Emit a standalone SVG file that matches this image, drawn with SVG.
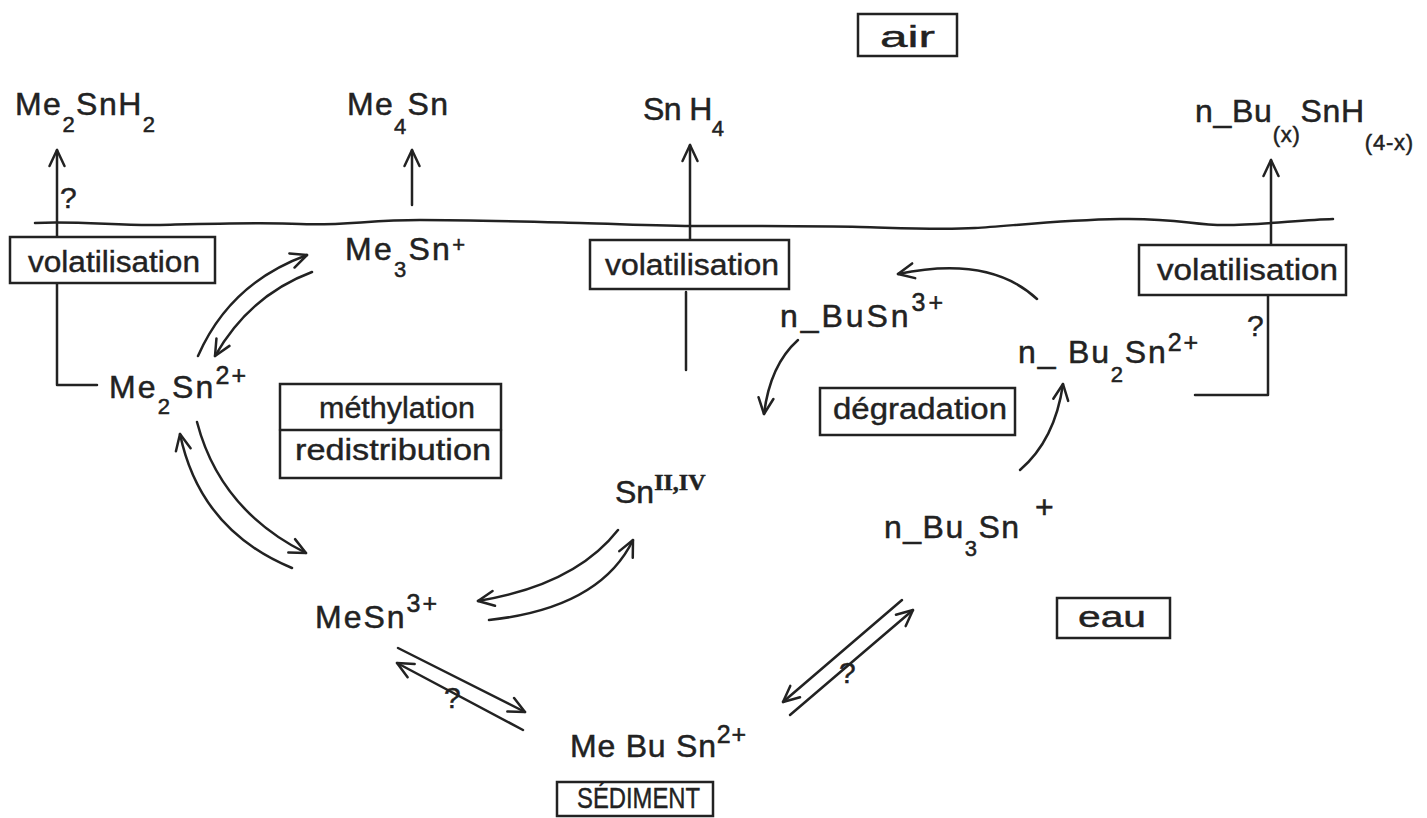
<svg xmlns="http://www.w3.org/2000/svg" width="1427" height="818" viewBox="0 0 1427 818">
<style>
text{font-family:"Liberation Sans",Arial,sans-serif;fill:#222}
.f{font-size:32px;stroke:#222;stroke-width:0.5}
.s{font-size:22px}
.p{font-size:25px}
.q{font-size:30px;stroke:#222;stroke-width:0.4}
.lab{font-size:29px;stroke:#222;stroke-width:0.4}
.rn{font-family:"Liberation Serif","Times New Roman",serif;font-weight:bold;font-size:24px}
.ln{fill:none;stroke:#222;stroke-width:2.5;stroke-linecap:round;stroke-linejoin:round}
.ar{marker-end:url(#ah)}
.box{fill:#fff;stroke:#222;stroke-width:2.5}
</style>
<defs>
<marker id="ah" viewBox="0 0 20 20" refX="18" refY="10" markerWidth="20" markerHeight="20" markerUnits="userSpaceOnUse" orient="auto">
<path d="M2,2.5 L18,10 L2,17.5" fill="none" stroke="#222" stroke-width="2.5" stroke-linecap="round" stroke-linejoin="round"/>
</marker>
</defs>
<rect width="1427" height="818" fill="#fff"/>

<g id="connectors">
<path id="water" class="ln" stroke-width="2" d="M35,223 C80,221 120,226 160,225 S260,222 300,224 S370,220 420,220 S540,222 580,223 S660,226 700,226 S820,226 860,227 S940,230 975,228 S1060,220 1120,219 S1190,225 1225,225 S1300,220 1333,219"/>
<path class="ln ar" d="M57,237 V150"/>
<path class="ln" d="M57,283 V385 H97"/>
<path class="ln ar" stroke-width="3" d="M412,205 V150"/>
<path class="ln ar" d="M690,240 V145"/>
<path class="ln" d="M686,292 V370"/>
<path class="ln ar" d="M1271,245 V160"/>
<path class="ln" d="M1268,295 V395 H1195"/>
<path class="ln ar" d="M198,356 Q230,283 307,255"/>
<path class="ln ar" d="M312,272 Q250,295 215,356"/>
<path class="ln ar" d="M197,422 Q220,510 306,553"/>
<path class="ln ar" d="M292,568 Q200,530 180,434"/>
<path class="ln ar" d="M618,530 Q575,585 478,601"/>
<path class="ln ar" d="M489,620 Q600,608 633,540"/>
<path class="ln ar" d="M798,340 Q770,365 764,414"/>
<path class="ln ar" d="M1037,299 Q990,255 898,274"/>
<path class="ln ar" d="M1020,470 Q1055,440 1063,384"/>
<path class="ln ar" d="M398,648 L525,712"/>
<path class="ln ar" d="M523,730 L397,663"/>
<path class="ln ar" d="M902,600 L783,702"/>
<path class="ln ar" d="M790,715 L913,610"/>
<text class="q" x="60" y="208">?</text>
<text class="q" x="1247" y="336">?</text>
<text class="q" x="444" y="708">?</text>
<text class="q" x="839" y="683">?</text>
</g>

<g id="air"><rect class="box" x="858" y="14" width="99" height="42"/><text class="lab" x="880" y="47" textLength="55" lengthAdjust="spacingAndGlyphs">air</text></g>
<g id="eau"><rect class="box" x="1057" y="598" width="113" height="40"/><text class="lab" x="1078" y="627" textLength="68" lengthAdjust="spacingAndGlyphs">eau</text></g>
<g id="sediment"><rect class="box" x="557" y="782" width="156" height="34"/><text class="lab" x="577" y="808" font-size="25" textLength="123" lengthAdjust="spacingAndGlyphs">SÉDIMENT</text></g>

<g id="volat1"><rect class="box" x="10" y="237" width="205" height="46"/><text class="lab" x="28" y="272" textLength="172" lengthAdjust="spacingAndGlyphs">volatilisation</text></g>
<g id="volat2"><rect class="box" x="590" y="240" width="199" height="49"/><text class="lab" x="605" y="275" textLength="174" lengthAdjust="spacingAndGlyphs">volatilisation</text></g>
<g id="volat3"><rect class="box" x="1139" y="245" width="207" height="50"/><text class="lab" x="1157" y="280" textLength="181" lengthAdjust="spacingAndGlyphs">volatilisation</text></g>
<g id="methyl"><rect class="box" x="280" y="384" width="221" height="94"/><line class="ln" x1="280" y1="430" x2="501" y2="430"/><text class="lab" x="319" y="418" textLength="156" lengthAdjust="spacingAndGlyphs">méthylation</text><text class="lab" x="295" y="460" textLength="196" lengthAdjust="spacingAndGlyphs">redistribution</text></g>
<g id="degrad"><rect class="box" x="820" y="388" width="195" height="47"/><text class="lab" x="833" y="419" textLength="174" lengthAdjust="spacingAndGlyphs">dégradation</text></g>

<g id="Me2SnH2"><text class="f" x="15" y="115" textLength="140" lengthAdjust="spacing">Me<tspan class="s" dy="17">2</tspan><tspan dy="-17">SnH</tspan><tspan class="s" dy="17">2</tspan></text></g>
<g id="Me4Sn"><text class="f" x="347" y="115" textLength="101" lengthAdjust="spacing">Me<tspan class="s" dy="19">4</tspan><tspan dy="-19">Sn</tspan></text></g>
<g id="SnH4"><text class="f" x="643" y="120" textLength="81" lengthAdjust="spacing">Sn H<tspan class="s" dy="16">4</tspan></text></g>
<g id="nBuxSnH"><text class="f" x="1195" y="122" textLength="218" lengthAdjust="spacing">n_Bu<tspan class="s" dy="20">(x)</tspan><tspan dy="-20">SnH</tspan><tspan class="s" dy="28">(4-x)</tspan></text></g>
<g id="Me3Sn"><text class="f" x="345" y="260" textLength="120" lengthAdjust="spacing">Me<tspan class="s" dy="17">3</tspan><tspan dy="-17">Sn</tspan><tspan class="s" dy="-8">+</tspan></text></g>
<g id="Me2Sn"><text class="f" x="109" y="398" textLength="137" lengthAdjust="spacing">Me<tspan class="s" dy="16">2</tspan><tspan dy="-16">Sn</tspan><tspan class="p" dy="-14">2+</tspan></text></g>
<g id="MeSn"><text class="f" x="315" y="628" textLength="122" lengthAdjust="spacing">MeSn<tspan class="p" dy="-16">3+</tspan></text></g>
<g id="SnIIIV"><text class="f" x="615" y="503">Sn<tspan class="rn" dy="-13">II,IV</tspan></text></g>
<g id="nBuSn"><text class="f" x="780" y="327" textLength="163" lengthAdjust="spacing">n_BuSn<tspan class="p" dy="-16">3+</tspan></text></g>
<g id="nBu2Sn"><text class="f" x="1018" y="363" textLength="180" lengthAdjust="spacing">n_ Bu<tspan class="s" dy="19">2</tspan><tspan dy="-19">Sn</tspan><tspan class="p" dy="-12">2+</tspan></text></g>
<g id="nBu3Sn"><text class="f" x="884" y="538" textLength="135" lengthAdjust="spacing">n_Bu<tspan class="s" dy="18">3</tspan><tspan dy="-18">Sn</tspan></text><text class="f" x="1035" y="518" font-size="24">+</text></g>
<g id="MeBuSn"><text class="f" x="570" y="757" textLength="176" lengthAdjust="spacing">Me Bu Sn<tspan class="p" dy="-14">2+</tspan></text></g>
</svg>
